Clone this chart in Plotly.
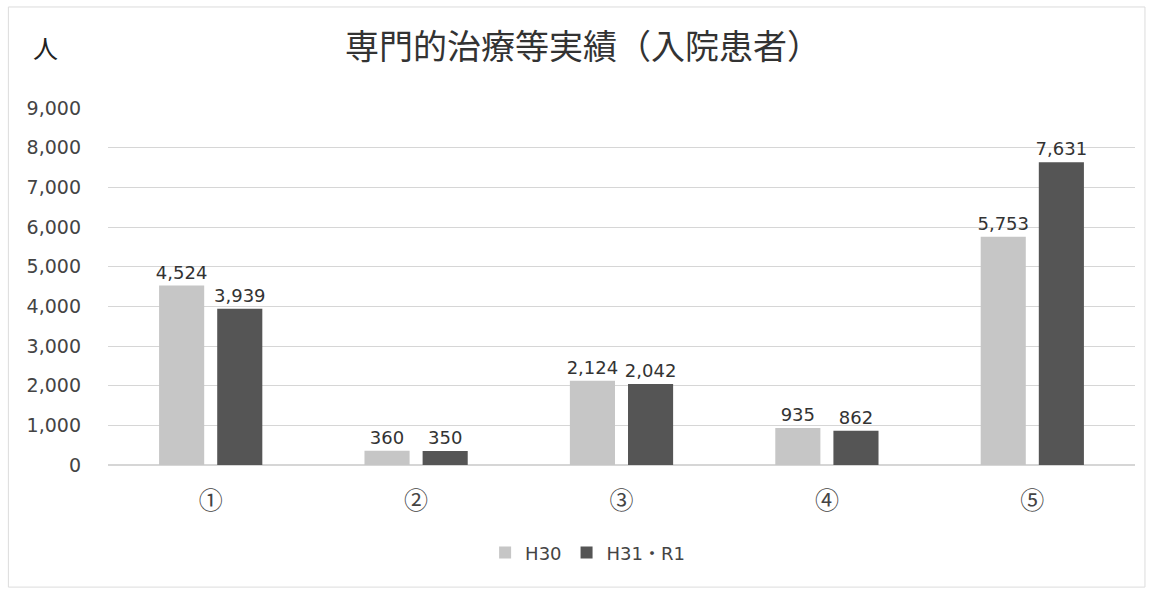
import plotly.graph_objects as go

categories = ["①", "②", "③", "④", "⑤"]
h30 = [4524, 360, 2124, 935, 5753]
h31r1 = [3939, 350, 2042, 862, 7631]
series_names = ["H30", "H31・R1"]
title_text = "専門的治療等実績（入院患者）"
y_unit = "人"

CJK = "Noto Sans CJK JP"
LAT = "DejaVu Sans, Noto Sans CJK JP"
fig = go.Figure()
fig.add_trace(go.Bar(x=categories, y=h30, name=series_names[0],
                     marker=dict(color="#c6c6c6", line=dict(width=0)),
                     text=[f"{v:,}" for v in h30], textposition="outside", constraintext="none",
                     textfont=dict(size=18, color="#333333", family=LAT), cliponaxis=False))
fig.add_trace(go.Bar(x=categories, y=h31r1, name=series_names[1],
                     marker=dict(color="#555555", line=dict(width=0)),
                     text=[f"{v:,}" for v in h31r1], textposition="outside", constraintext="none",
                     textfont=dict(size=18, color="#333333", family=LAT), cliponaxis=False))

fig.update_layout(
    width=1152, height=589,
    margin=dict(l=108, r=17, t=108, b=124),
    paper_bgcolor="white", plot_bgcolor="white",
    font=dict(family=LAT, color="#444444", size=18),
    title=dict(text=title_text, xref="paper", x=0.4625, xanchor="center",
               yref="container", y=0.92, yanchor="middle",
               font=dict(size=34, color="#333333", family=CJK)),
    barmode="group", bargap=0.434, bargroupgap=0.224,
    legend=dict(orientation="h", x=0.467, xanchor="center", y=-0.246, yanchor="middle",
                font=dict(size=18, color="#444444", family=LAT), itemwidth=30),
    showlegend=True,
)
fig.update_yaxes(range=[0, 9000], dtick=1000, tickformat=",", showgrid=True,
                 gridcolor="#d6d6d6", gridwidth=1, zeroline=True, zerolinecolor="#d6d6d6",
                 ticks="", tickfont=dict(size=19, color="#444444", family=LAT),
                 ticklabelstandoff=26)
fig.update_xaxes(showgrid=False, ticks="", tickfont=dict(size=24, color="#444444", family=CJK),
                 showline=True, linecolor="#d6d6d6", ticklabelstandoff=14)
fig.add_annotation(text=y_unit, xref="paper", yref="paper", x=-0.061, y=1.17,
                   xanchor="center", yanchor="middle", showarrow=False,
                   font=dict(size=25, color="#222222", family=CJK))
fig.add_shape(type="rect", xref="paper", yref="paper", x0=-0.097, x1=1.0097, y0=-0.342, y1=1.283,
              line=dict(color="#dcdcdc", width=1))
fig.write_html("out.html")
